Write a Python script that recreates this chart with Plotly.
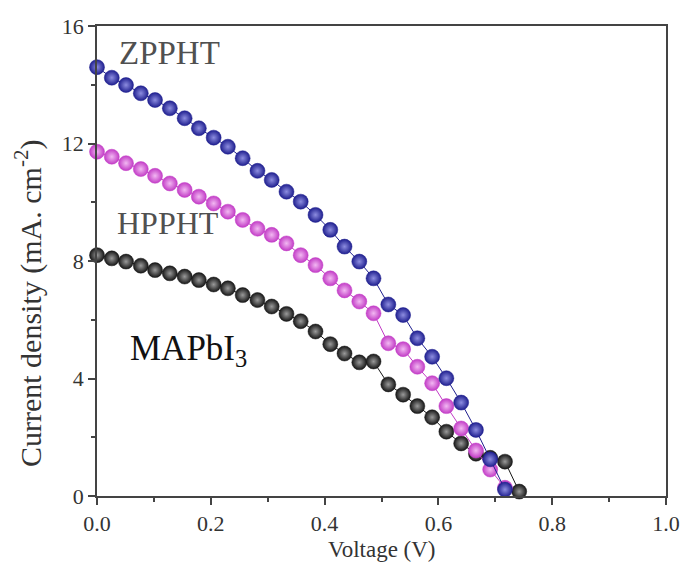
import plotly.graph_objects as go

# Voltage (V) sampled points
voltage = [0.000, 0.026, 0.051, 0.077, 0.102, 0.128, 0.154, 0.179, 0.205, 0.230,
           0.256, 0.282, 0.307, 0.333, 0.358, 0.384, 0.410, 0.435, 0.461, 0.486,
           0.512, 0.538, 0.563, 0.589, 0.614, 0.640, 0.666, 0.691, 0.717, 0.742]

# Current density (mA cm^-2)
j_zpp = [14.60, 14.24, 13.99, 13.71, 13.48, 13.20, 12.86, 12.52, 12.20, 11.89,
         11.50, 11.07, 10.76, 10.36, 10.02, 9.57, 9.06, 8.49, 7.98, 7.41,
         6.52, 6.16, 5.37, 4.74, 4.01, 3.18, 2.25, 1.25, 0.22]
j_hpp = [11.72, 11.55, 11.33, 11.13, 10.90, 10.64, 10.42, 10.19, 9.96, 9.68,
         9.40, 9.10, 8.89, 8.60, 8.20, 7.86, 7.41, 7.00, 6.62, 6.22,
         5.20, 5.00, 4.40, 3.84, 3.06, 2.30, 1.55, 0.90, 0.28]
j_map = [8.20, 8.09, 7.98, 7.84, 7.69, 7.58, 7.47, 7.35, 7.20, 7.07,
         6.84, 6.67, 6.45, 6.20, 5.95, 5.60, 5.17, 4.85, 4.55, 4.58,
         3.80, 3.45, 3.06, 2.68, 2.19, 1.79, 1.44, 1.30, 1.17, 0.15]

series = [
    ("MAPbI3", j_map, "#161616", "#9a9a9a"),
    ("HPPHT", j_hpp, "#c23cc6", "#f2b8f2"),
    ("ZPPHT", j_zpp, "#1f1f8f", "#8d8de0"),
]

fig = go.Figure()
for name, j, col, hi in series:
    fig.add_trace(go.Scatter(
        x=voltage[:len(j)], y=j, mode="lines+markers", name=name,
        line=dict(color=col, width=1),
        marker=dict(size=15, color=col,
                    gradient=dict(type="radial", color=hi),
                    line=dict(color=col, width=0.5)),
        cliponaxis=False, showlegend=False,
    ))

serif = "Liberation Serif"
ann = [
    dict(x=0.036, y=15.08, text="ZPPHT", size=33, color="#505050"),
    dict(x=0.031, y=9.29, text="HPPHT", size=32, color="#505050"),
    dict(x=0.054, y=4.95, text="MAPbI<sub>3</sub>", size=35, color="#111111"),
]
for a in ann:
    fig.add_annotation(x=a["x"], y=a["y"], xref="x", yref="y", text=a["text"],
                       showarrow=False, xanchor="left", yanchor="middle",
                       font=dict(family=serif, size=a["size"], color=a["color"]))

fig.add_annotation(x=0.5, y=-0.113, xref="paper", yref="paper", text="Voltage (V)",
                   showarrow=False, xanchor="center", yanchor="middle",
                   font=dict(family=serif, size=23, color="#333333"))
fig.add_annotation(x=-0.12, y=0.41, xref="paper", yref="paper",
                   text="Current density (mA. cm<sup>-2</sup>)", textangle=-90,
                   showarrow=False, xanchor="center", yanchor="middle",
                   font=dict(family=serif, size=30, color="#333333"))

axis_common = dict(showline=True, linecolor="#444444", linewidth=1.8, mirror=True,
                   showgrid=False, zeroline=False, ticks="outside", ticklen=7,
                   tickwidth=1.5, tickcolor="#444444",
                   tickfont=dict(family=serif, size=22, color="#333333"))
fig.update_xaxes(range=[0, 1.0], tickvals=[0, 0.2, 0.4, 0.6, 0.8, 1.0],
                 ticktext=["0.0", "0.2", "0.4", "0.6", "0.8", "1.0"],
                 minor=dict(tickvals=[0.1, 0.3, 0.5, 0.7, 0.9], ticks="outside",
                            ticklen=4, tickcolor="#444444"),
                 **axis_common)
fig.update_yaxes(range=[0, 16], tickvals=[0, 4, 8, 12, 16],
                 ticktext=["0", "4", "8", "12", "16"],
                 minor=dict(tickvals=[2, 6, 10, 14], ticks="outside",
                            ticklen=4, tickcolor="#444444"),
                 **axis_common)

fig.update_layout(width=692, height=562,
                  margin=dict(l=97, r=18, t=26, b=66),
                  paper_bgcolor="white", plot_bgcolor="white")
fig.write_html("out.html")
